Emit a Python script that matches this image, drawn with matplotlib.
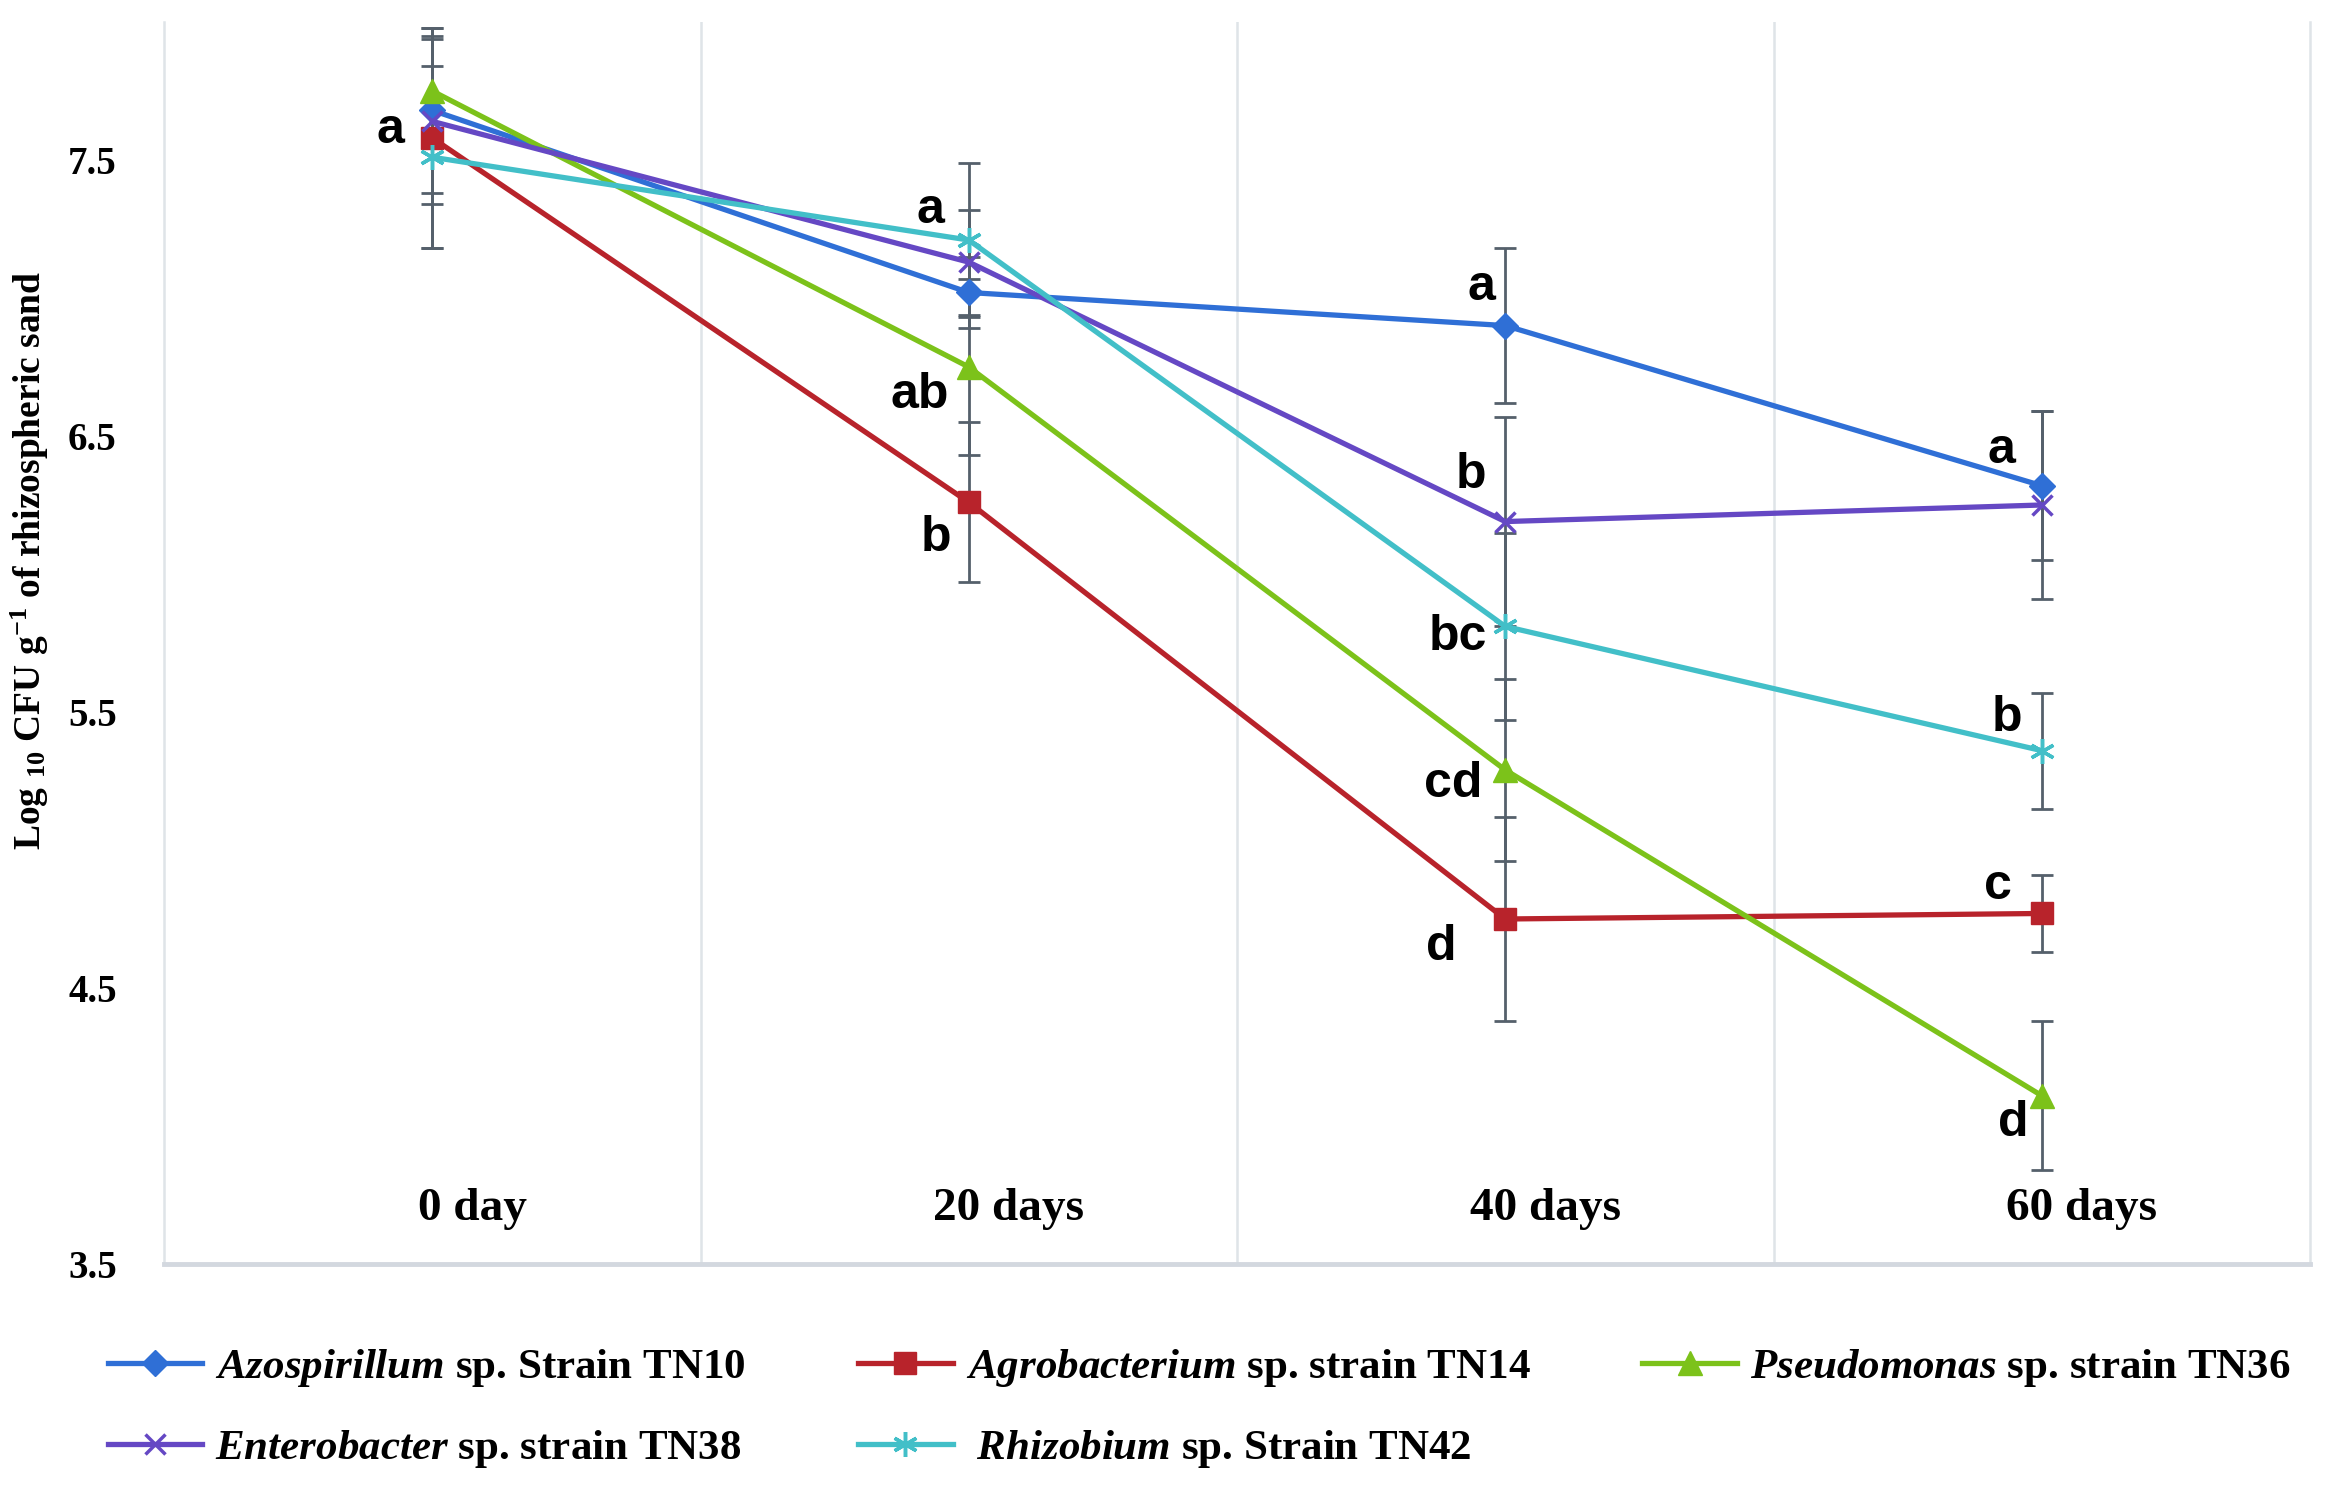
import numpy as np
import matplotlib.pyplot as plt

plt.rcParams['font.family'] = ['Liberation Serif', 'DejaVu Serif']
plt.rcParams['mathtext.fontset'] = 'custom'
plt.rcParams['mathtext.rm'] = 'Liberation Serif:bold'
plt.rcParams['mathtext.bf'] = 'Liberation Serif:bold'
plt.rcParams['mathtext.it'] = 'Liberation Serif:italic:bold'

# data
days = ['0 day', '20 days', '40 days', '60 days']

azo = [7.68, 7.02, 6.90, 6.32]
agro = [7.58, 6.26, 4.75, 4.77]
pseudo = [7.75, 6.75, 5.29, 4.11]
entero = [7.64, 7.13, 6.19, 6.25]
rhizo = [7.51, 7.21, 5.81, 5.36]

azo_err = [0.30, 0.13, 0.28, 0.27]
agro_err = [0.40, 0.29, 0.37, 0.14]
pseudo_err = [0.20, 0.32, 0.33, 0.27]
entero_err = [0.30, 0.19, 0.38, 0.34]
rhizo_err = [0.33, 0.28, 0.34, 0.21]

# significance letters: (series, day index, letter)
letters = [
    ('agro', 0, 'a'),
    ('rhizo', 1, 'a'), ('pseudo', 1, 'ab'), ('agro', 1, 'b'),
    ('azo', 2, 'a'), ('entero', 2, 'b'), ('rhizo', 2, 'bc'),
    ('pseudo', 2, 'cd'), ('agro', 2, 'd'),
    ('azo', 3, 'a'), ('rhizo', 3, 'b'), ('agro', 3, 'c'), ('pseudo', 3, 'd'),
]
# where each letter sits relative to its point (dx in categories, dy in log units)
letter_offsets = [
    (-0.078, 0.03),
    (-0.072, 0.11), (-0.092, -0.10), (-0.061, -0.13),
    (-0.044, 0.14), (-0.064, 0.17), (-0.089, -0.04),
    (-0.097, -0.05), (-0.119, -0.10),
    (-0.075, 0.13), (-0.064, 0.12), (-0.081, 0.10), (-0.053, -0.10),
]

series = {
    'azo': (azo, azo_err, '#2f6fd6', 'D', 13, r'$Azospirillum$ sp. Strain TN10'),
    'agro': (agro, agro_err, '#b8232b', 's', 16, r'$Agrobacterium$ sp. strain TN14'),
    'pseudo': (pseudo, pseudo_err, '#7cc21a', '^', 17, r'$Pseudomonas$ sp. strain TN36'),
    'entero': (entero, entero_err, '#6548c4', 'x', 15, r'$Enterobacter$ sp. strain TN38'),
    'rhizo': (rhizo, rhizo_err, '#42bfc8', (6, 2, 0), 18, r' $Rhizobium$ sp. Strain TN42'),
}

fig = plt.figure(figsize=(23.39, 14.87), dpi=100)
ax = fig.add_axes([164/2339, 1 - 1264/1487, (2310 - 164)/2339, (1264 - 22)/1487])

x = np.arange(len(days))

for key in ['azo', 'agro', 'pseudo', 'entero', 'rhizo']:
    vals, err, col, mk, ms, lab = series[key]
    ax.errorbar(x, vals, yerr=err, fmt='none', ecolor='#55606b', elinewidth=2,
                capsize=8, capthick=2, zorder=2)

handles = {}
for key in ['azo', 'agro', 'pseudo', 'entero', 'rhizo']:
    vals, err, col, mk, ms, lab = series[key]
    ln, = ax.plot(x, vals, color=col, lw=3.8, marker=mk, markersize=ms,
                  markeredgewidth=2.5 if mk in ('x', (6, 2, 0)) else 1,
                  markeredgecolor=col, zorder=3, label=lab)
    handles[key] = ln

for (key, i, txt), (dx, dy) in zip(letters, letter_offsets):
    ax.text(i + dx, series[key][0][i] + dy, txt, family='Liberation Sans',
            fontweight='bold', fontsize=36, ha='center', va='center', zorder=4)

for i, d in enumerate(days):
    ax.text(i + 0.075, 3.70, d, fontsize=34, fontweight='bold', ha='center', va='center')

ax.set_xlim(-0.5, 3.5)
ax.set_ylim(3.5, 8.0)
ax.set_xticks([])
ax.set_yticks([3.5, 4.5, 5.5, 6.5, 7.5])
ax.set_yticklabels(['3.5', '4.5', '5.5', '6.5', '7.5'], fontsize=28, fontweight='bold')
ax.tick_params(axis='y', length=0, pad=34)
for v in [0.5, 1.5, 2.5]:
    ax.axvline(v, color='#dfe4e8', lw=1.8, zorder=0)
ax.spines['top'].set_visible(False)
ax.spines['left'].set_color('#dfe4e8')
ax.spines['left'].set_linewidth(1.8)
ax.spines['right'].set_color('#dfe4e8')
ax.spines['right'].set_linewidth(1.8)
ax.spines['bottom'].set_color('#d3d8df')
ax.spines['bottom'].set_linewidth(3.5)

fig.text(0.013, 1 - 560/1487, r'Log $_{10}$ CFU g$^{-1}$ of rhizospheric sand',
         rotation=90, fontsize=27, fontweight='bold', ha='center', va='center')

order = ['azo', 'entero', 'agro', 'rhizo', 'pseudo']
leg = fig.legend([handles[k] for k in order], [series[k][5] for k in order],
                 ncol=3, loc='upper left', bbox_to_anchor=(0.046, 0.094),
                 frameon=False, fontsize=31, handlelength=2.2, handletextpad=0.3,
                 columnspacing=2.6, labelspacing=0.9, borderpad=0, borderaxespad=0)
for t in leg.get_texts():
    t.set_fontweight('bold')

fig.savefig('out.png', dpi=100)
